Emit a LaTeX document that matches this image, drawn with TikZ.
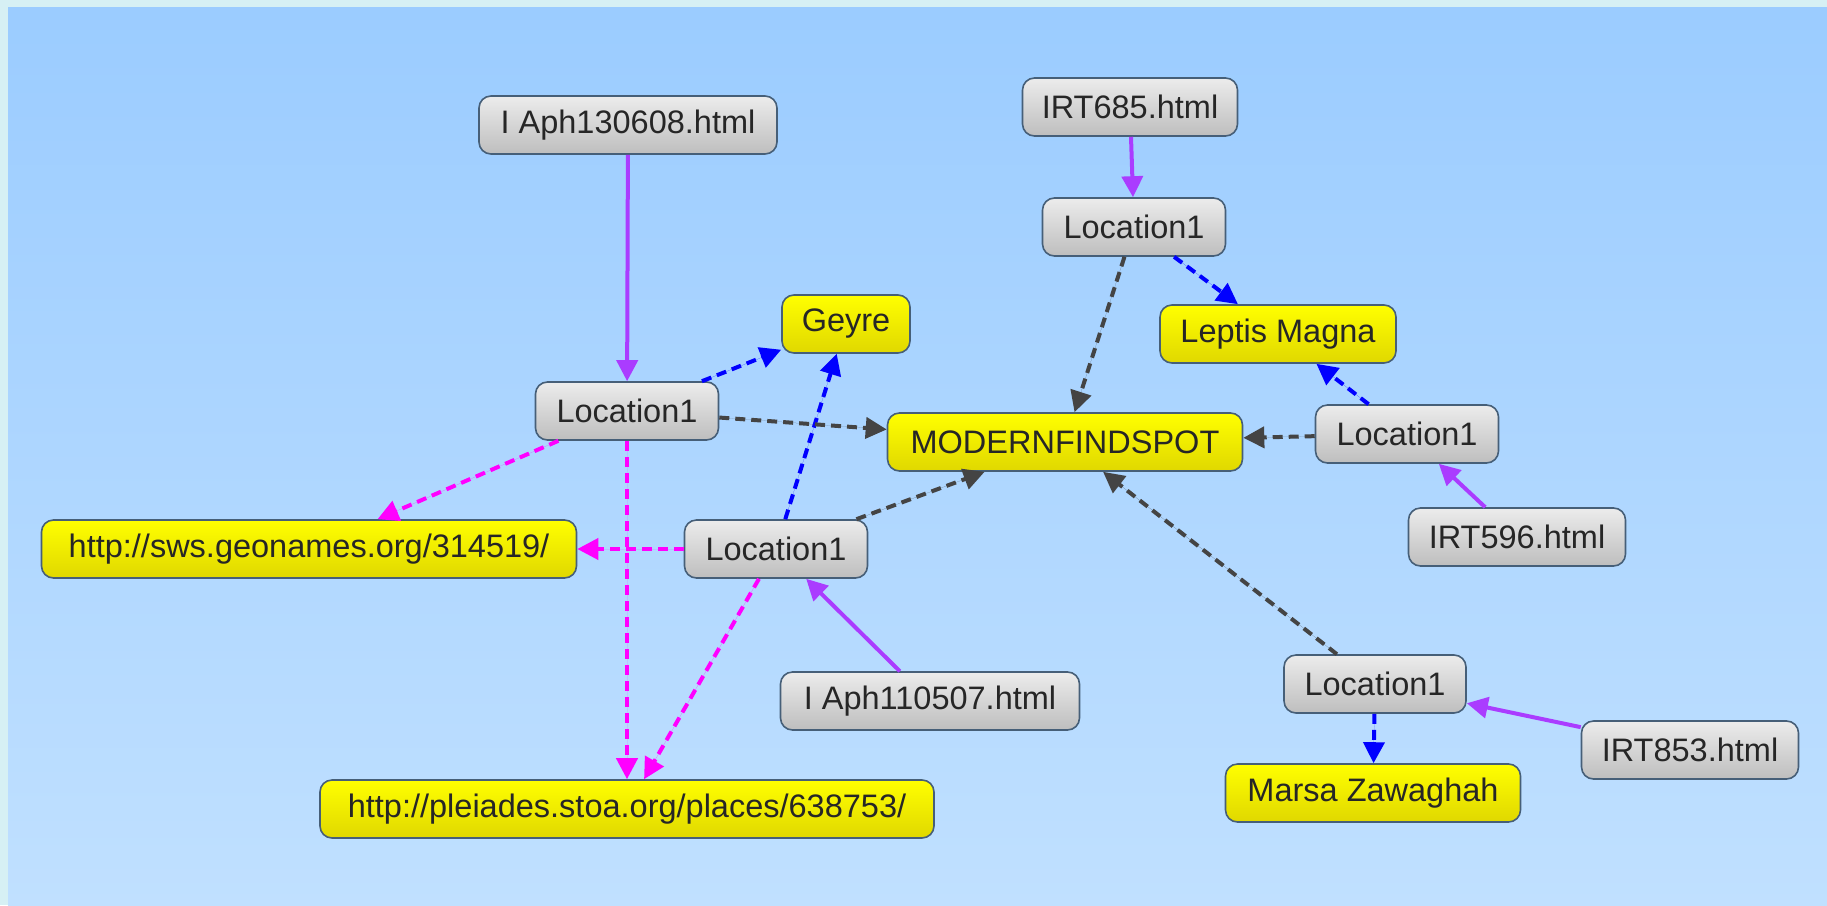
\documentclass[tikz,border=0pt]{standalone}
\usepackage{fontspec}
\setmainfont{Liberation Sans}
\usetikzlibrary{arrows.meta,shadings}
\definecolor{frame}{RGB}{214,240,244}
\definecolor{bgtop}{RGB}{155,204,255}
\definecolor{bgbot}{RGB}{192,224,255}
\definecolor{nborder}{RGB}{70,95,120}
\definecolor{gtop}{RGB}{236,236,236}
\definecolor{gbot}{RGB}{190,190,190}
\definecolor{ytop}{RGB}{255,255,0}
\definecolor{ybot}{RGB}{224,216,0}
\definecolor{purp}{RGB}{170,60,255}
\definecolor{dgray}{RGB}{68,68,68}
\definecolor{mag}{RGB}{255,0,255}
\definecolor{blu}{RGB}{0,0,255}
\tikzset{
  box/.style={draw=nborder, line width=1.6pt, rounded corners=12pt, minimum height=58pt,
    inner xsep=4pt, font=\fontsize{32.5}{32.5}\selectfont, text=black!85},
  graybox/.style={box, top color=gtop, bottom color=gbot},
  yelbox/.style={box, top color=ytop, bottom color=ybot},
  tip/.style={-{Triangle[length=21pt,width=21pt]}},
  purpline/.style={tip, draw=purp, fill=purp, line width=4pt},
  blueline/.style={tip, draw=blu, fill=blu, line width=4pt, dash pattern=on 10pt off 6pt},
  grayline/.style={tip, draw=dgray, fill=dgray, line width=4pt, dash pattern=on 10pt off 6pt},
  magline/.style={tip, draw=mag, fill=mag, line width=4pt, dash pattern=on 10pt off 6pt},
}
\begin{document}
\begin{tikzpicture}[x=1pt,y=-1pt]
\useasboundingbox (0,0) rectangle (1827,905);
\fill[frame] (0,0) rectangle (1827,905);
\shade[top color=bgtop, bottom color=bgbot] (8,7) rectangle (1827,905);

\node[graybox, minimum width=298pt] (aph1) at (628,125) {I Aph130608.html};
\node[graybox, minimum width=215pt] (irt685) at (1130,107) {IRT685.html};
\node[graybox, minimum width=183pt] (loctop) at (1134,227) {Location1};
\node[yelbox, minimum width=128pt] (geyre) at (846,324) {Geyre};
\node[yelbox, minimum width=236pt] (leptis) at (1278,334) {Leptis Magna};
\node[graybox, minimum width=183pt] (locleft) at (627,411) {Location1};
\node[yelbox, minimum width=355pt] (modern) at (1065,442) {MODERNFINDSPOT};
\node[graybox, minimum width=183pt] (locright) at (1407,434) {Location1};
\node[graybox, minimum width=217pt] (irt596) at (1517,537) {IRT596.html};
\node[yelbox, minimum width=535pt] (sws) at (309,549) {http://sws.geonames.org/314519/};
\node[graybox, minimum width=183pt] (locmid) at (776,549) {Location1};
\node[graybox, minimum width=299pt] (aph2) at (930,701) {I Aph110507.html};
\node[graybox, minimum width=182pt] (locbr) at (1375,684) {Location1};
\node[graybox, minimum width=217pt] (irt853) at (1690,750) {IRT853.html};
\node[yelbox, minimum width=295pt] (marsa) at (1373,793) {Marsa Zawaghah};
\node[yelbox, minimum width=614pt] (pleiades) at (627,809) {http://pleiades.stoa.org/places/638753/};

\draw[purpline] (aph1) -- (locleft);
\draw[purpline] (irt685) -- (loctop);
\draw[purpline] (aph2) -- (locmid);
\draw[purpline] (irt596) -- (locright);
\draw[purpline] (irt853) -- (locbr);

\draw[blueline] (loctop) -- (leptis);
\draw[blueline] (locright) -- (leptis);
\draw[blueline] (locleft) -- (geyre);
\draw[blueline] (locmid) -- (geyre);
\draw[blueline] (locbr) -- (marsa);

\draw[grayline] (loctop) -- (modern);
\draw[grayline] (locleft) -- (modern);
\draw[grayline] (locmid) -- (modern);
\draw[grayline] (locright) -- (modern);
\draw[grayline] (locbr) -- (modern);

\draw[magline] (locleft) -- (sws);
\draw[magline] (locleft) -- (pleiades);
\draw[magline] (locmid) -- (sws);
\draw[magline] (locmid) -- (pleiades);
\end{tikzpicture}
\end{document}
